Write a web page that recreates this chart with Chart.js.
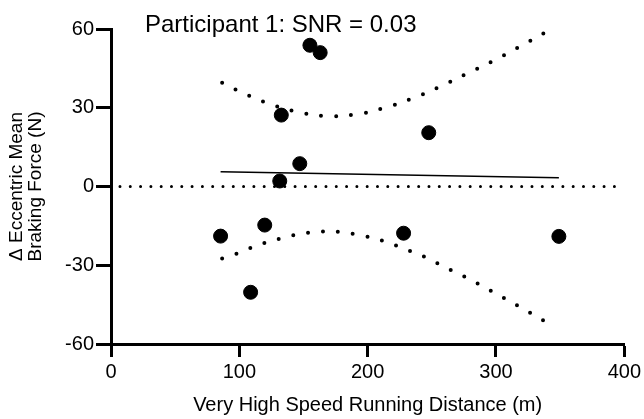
<!DOCTYPE html>
<html>
<head>
<meta charset="utf-8">
<script src="https://cdn.jsdelivr.net/npm/chart.js@4.4.1/dist/chart.umd.min.js"></script>
<style>
  body { margin: 0; background: #fff; }
</style>
</head>
<body>
<canvas id="grafico" width="644" height="419"></canvas>
<script>
// pontos (distancia m, delta N)
const distancia = [85.4, 108.8, 119.8, 131.5, 132.7, 147.1, 155, 163, 228, 247.6, 349];
const deltaForca = [-18.9, -40.3, -14.7, 2.1, 27.2, 8.7, 53.8, 51, -17.8, 20.5, -19];

// reta de regressao (extremos)
const retaX = [85.4, 349];
const retaY = [5.6, 3.3];

// banda de confianca superior / inferior
const bandaSupX = [86.6, 97.3, 118.9, 142.2, 166, 190, 213.5, 236.1, 258, 279.4, 300.7, 321.6, 342];
const bandaSupY = [39.5, 36.9, 32.3, 28.8, 26.9, 27.4, 30, 33.8, 38.4, 43.5, 48.6, 54.1, 59.7];
const bandaInfX = [86.6, 97.3, 108.3, 119.9, 131.5, 143.1, 154.8, 166.7, 178.7, 190.6, 202.5, 214.1, 225.5, 236.4, 247.4, 258, 268.7, 279, 289.7, 300, 310.4, 320.7, 331, 341];
const bandaInfY = [-27.4, -25.7, -23.5, -21.5, -19.9, -18.5, -17.5, -17.1, -17.3, -18.2, -19.5, -21, -23.1, -25.2, -27.5, -30.2, -32.8, -35.2, -38, -40.8, -43.6, -46.5, -49.3, -52.3];

// linha do zero
const zeroX = [7, 394];
const zeroY = [0, 0];

const xTicks = [0, 100, 200, 300, 400];
const yTicks = [-60, -30, 0, 30, 60];

const titulo = 'Participant 1: SNR = 0.03';
const fonte = '"Liberation Sans", Arial, Helvetica, sans-serif';

function pares(xs, ys) {
  return xs.map((x, i) => ({ x: x, y: ys[i] }));
}

const pontilhado = (w, gap) => ({
  showLine: true,
  pointRadius: 0,
  borderColor: '#000',
  borderWidth: w,
  borderDash: [0, gap],
  borderCapStyle: 'round',
  fill: false
});

const tituloPlugin = {
  id: 'tituloPlugin',
  afterDraw(chart) {
    const ctx = chart.ctx;
    const area = chart.chartArea;
    ctx.save();
    ctx.font = '24px ' + fonte;
    ctx.fillStyle = '#000';
    ctx.textAlign = 'left';
    ctx.textBaseline = 'alphabetic';
    ctx.fillText(titulo, area.left + 34, area.top + 2.5);
    ctx.restore();
  }
};

new Chart(grafico, {
  type: 'scatter',
  data: {
    datasets: [
      {
        data: pares(distancia, deltaForca),
        backgroundColor: '#000',
        borderColor: '#000',
        pointRadius: 7,
        pointHoverRadius: 7
      },
      {
        data: pares(retaX, retaY),
        showLine: true,
        pointRadius: 0,
        borderColor: '#000',
        borderWidth: 1.5
      },
      Object.assign({ data: pares(bandaSupX, bandaSupY), tension: 0.4 }, pontilhado(4, 15)),
      Object.assign({ data: pares(bandaInfX, bandaInfY), tension: 0.4 }, pontilhado(4, 15)),
      Object.assign({ data: pares(zeroX, zeroY) }, pontilhado(3, 10.3))
    ]
  },
  options: {
    responsive: false,
    animation: false,
    layout: { padding: { top: 29, right: 17, left: 0, bottom: 0 } },
    plugins: {
      legend: { display: false },
      tooltip: { enabled: false }
    },
    scales: {
      x: {
        type: 'linear',
        min: 0,
        max: 400,
        afterBuildTicks: s => { s.ticks = xTicks.map(v => ({ value: v })); },
        afterFit: s => { s.height = 75; },
        border: { color: '#000', width: 3 },
        grid: { drawOnChartArea: false, tickLength: 13, tickWidth: 3, tickColor: '#000' },
        ticks: { color: '#000', padding: 3, font: { family: fonte, size: 20 }, maxRotation: 0 },
        title: {
          display: true,
          text: 'Very High Speed Running Distance (m)',
          color: '#000',
          font: { family: fonte, size: 20, lineHeight: 1.2 },
          padding: { top: 0, bottom: 2 }
        }
      },
      y: {
        min: -60,
        max: 60,
        afterBuildTicks: s => { s.ticks = yTicks.map(v => ({ value: v })); },
        afterFit: s => { s.width = 111; },
        border: { color: '#000', width: 3 },
        grid: { drawOnChartArea: false, tickLength: 15, tickWidth: 3, tickColor: '#000' },
        ticks: { color: '#000', padding: 2, font: { family: fonte, size: 20 } },
        title: {
          display: true,
          text: ['\u0394 Eccentric Mean', 'Braking Force (N)'],
          color: '#000',
          font: { family: fonte, size: 19, lineHeight: 1.0 },
          padding: { top: 7, bottom: 0 }
        }
      }
    }
  },
  plugins: [tituloPlugin]
});
</script>
</body>
</html>
